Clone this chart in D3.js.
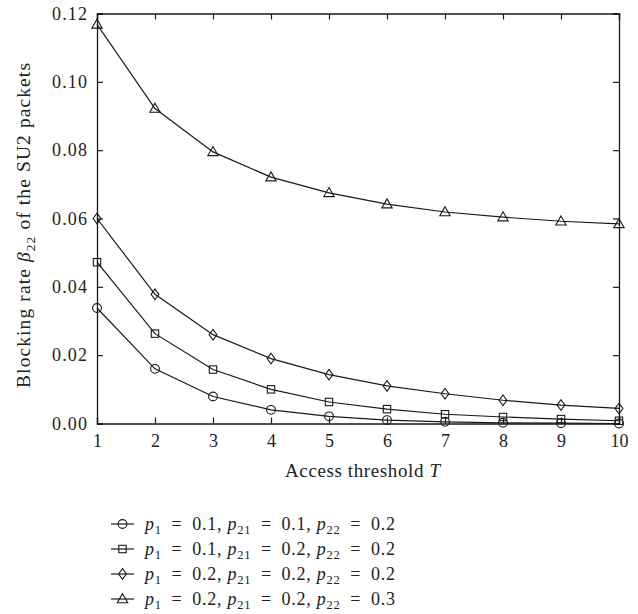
<!DOCTYPE html>
<html>
<head>
<meta charset="utf-8">
<script src="https://cdn.jsdelivr.net/npm/d3@7"></script>
<style>
  html, body { margin: 0; padding: 0; background: #fff; }
  svg { display: block; }
  text { font-family: "Liberation Serif", "DejaVu Serif", serif; fill: #222; }
</style>
</head>
<body>
<svg id="chart" width="638" height="614"></svg>
<script>
// Access threshold values (x axis)
const thresholds = [1, 2, 3, 4, 5, 6, 7, 8, 9, 10];

// Blocking rate of SU2 packets for each parameter set
const seriesCircle   = [0.0338, 0.0160, 0.0079, 0.0040, 0.0021, 0.0010, 0.0005, 0.0002, 0.0001, 0.0000];
const seriesSquare   = [0.0472, 0.0263, 0.0158, 0.0100, 0.0063, 0.0042, 0.0027, 0.0019, 0.0013, 0.0008];
const seriesDiamond  = [0.0600, 0.0378, 0.0260, 0.0190, 0.0143, 0.0110, 0.0087, 0.0068, 0.0054, 0.0044];
const seriesTriangle = [0.1168, 0.0922, 0.0795, 0.0721, 0.0675, 0.0642, 0.0619, 0.0604, 0.0592, 0.0584];

// Legend parameters: [p1, p21, p22]
const legendParams = [
  ["0.1", "0.1", "0.2"],
  ["0.1", "0.2", "0.2"],
  ["0.2", "0.2", "0.2"],
  ["0.2", "0.2", "0.3"]
];
const markerKinds = ["circle", "square", "diamond", "triangle"];
const yTicks = [0, 0.02, 0.04, 0.06, 0.08, 0.10, 0.12];

const svg = d3.select("#chart");
const x = d3.scaleLinear().domain([1, 10]).range([97, 619]);
const y = d3.scaleLinear().domain([0, 0.12]).range([423.5, 13.5]);

const stroke = "#1a1a1a";
const tickFont = 18;

// Axes with inward ticks on all four sides
const xAxisB = d3.axisBottom(x).tickValues(thresholds).tickSize(-6).tickPadding(11).tickFormat(d3.format("d"));
const xAxisT = d3.axisTop(x).tickValues(thresholds).tickSize(-6).tickFormat("");
const yAxisL = d3.axisLeft(y).tickValues(yTicks).tickSize(-6).tickPadding(10).tickFormat(d3.format(".2f"));
const yAxisR = d3.axisRight(y).tickValues(yTicks).tickSize(-6).tickFormat("");

function styleAxis(g) {
  g.select(".domain").attr("stroke", stroke).attr("stroke-width", 1.3);
  g.selectAll(".tick line").attr("stroke", stroke).attr("stroke-width", 1.2);
  g.selectAll(".tick text").attr("font-size", tickFont).attr("fill", "#222")
    .attr("font-family", "Liberation Serif, DejaVu Serif, serif");
}

svg.append("g").attr("transform", `translate(0,${y(0)})`).call(xAxisB).call(styleAxis);
svg.append("g").attr("transform", `translate(0,${y(0.12)})`).call(xAxisT).call(styleAxis);
const gy = svg.append("g").attr("transform", `translate(${x(1)},0)`).call(yAxisL).call(styleAxis);
// decimal labels are set a little wider
gy.selectAll(".tick text").attr("textLength", 35).attr("lengthAdjust", "spacing");
svg.append("g").attr("transform", `translate(${x(10)},0)`).call(yAxisR).call(styleAxis);

// Axis titles
svg.append("text")
  .attr("x", 362.5).attr("y", 477)
  .attr("text-anchor", "middle").attr("font-size", 19)
  .attr("textLength", 155).attr("lengthAdjust", "spacing")
  .html('Access threshold <tspan font-style="italic">T</tspan>');

const yTitle = svg.append("text")
  .attr("transform", `translate(30,225.5) rotate(-90)`)
  .attr("text-anchor", "middle").attr("font-size", 19.5)
  .attr("textLength", 325).attr("lengthAdjust", "spacing");
yTitle.append("tspan").text("Blocking rate ");
yTitle.append("tspan").attr("font-style", "italic").text("β");
yTitle.append("tspan").attr("font-size", 13.5).attr("dy", 5).text("22");
yTitle.append("tspan").attr("dy", -5).text(" of the SU2 packets");

// Marker drawing
function drawMarker(g, kind, cx, cy) {
  let m;
  if (kind === "circle") {
    m = g.append("circle").attr("cx", cx).attr("cy", cy).attr("r", 4.4);
  } else if (kind === "square") {
    m = g.append("rect").attr("x", cx - 3.7).attr("y", cy - 3.7).attr("width", 7.4).attr("height", 7.4);
  } else if (kind === "diamond") {
    m = g.append("path").attr("d", `M${cx},${cy - 5.3}L${cx + 3.9},${cy}L${cx},${cy + 5.3}L${cx - 3.9},${cy}Z`);
  } else {
    m = g.append("path").attr("d", `M${cx},${cy - 5.3}L${cx + 5.2},${cy + 3.7}L${cx - 5.2},${cy + 3.7}Z`);
  }
  m.attr("fill", "none").attr("stroke", stroke).attr("stroke-width", 1.1);
}

const allSeries = [seriesCircle, seriesSquare, seriesDiamond, seriesTriangle];
const line = d3.line().x((d, i) => x(thresholds[i])).y(d => y(d));

allSeries.forEach((vals, si) => {
  const g = svg.append("g");
  g.append("path").datum(vals).attr("d", line)
    .attr("fill", "none").attr("stroke", stroke).attr("stroke-width", 1.2);
  vals.forEach((v, i) => drawMarker(g, markerKinds[si], x(thresholds[i]), y(v)));
});

// Legend
const legendY0 = 524, legendDy = 25;
const legendFont = 18, subFont = 12.5, subShift = 4;
legendParams.forEach((p, i) => {
  const ly = legendY0 + i * legendDy;
  const g = svg.append("g");
  g.append("line").attr("x1", 111).attr("x2", 134).attr("y1", ly).attr("y2", ly)
    .attr("stroke", stroke).attr("stroke-width", 1.2);
  drawMarker(g, markerKinds[i], 122.5, ly);
  const t = g.append("text").attr("x", 145).attr("y", ly + 5.5).attr("font-size", legendFont)
    .attr("textLength", 250).attr("lengthAdjust", "spacing");
  const parts = [["1", p[0]], ["21", p[1]], ["22", p[2]]];
  parts.forEach(([s, v], k) => {
    t.append("tspan").attr("font-style", "italic").text("p");
    t.append("tspan").attr("font-size", subFont).attr("dy", subShift).text(s);
    t.append("tspan").attr("dy", -subShift).text(`\u2002=\u2002${v}${k < 2 ? ", " : ""}`);
  });
});
</script>
</body>
</html>
